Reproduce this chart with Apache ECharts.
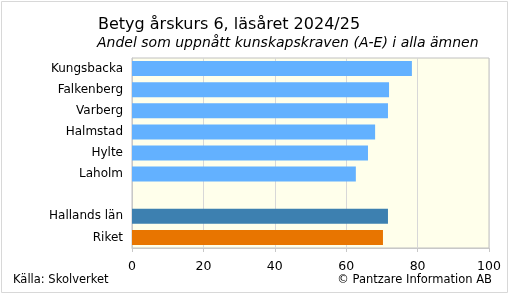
<!DOCTYPE html>
<html><head><meta charset="utf-8">
<script src="https://cdn.jsdelivr.net/npm/echarts@6/dist/echarts.min.js"></script>
<style>html,body{margin:0;padding:0;background:#fff}#c{width:510px;height:295px}</style>
</head><body><div id="c"></div>
<script>
const categories = ['Kungsbacka','Falkenberg','Varberg','Halmstad','Hylte','Laholm','','Hallands län','Riket'];
const values = [78.4, 72.0, 71.7, 68.1, 66.1, 62.7, null, 71.7, 70.3];
const groups = ['kommun','kommun','kommun','kommun','kommun','kommun','','lan','riket'];
const xTicks = [0, 20, 40, 60, 80, 100];
const groupColors = {kommun:'#63B1FF', lan:'#3D80B0', riket:'#E87500', '':'#63B1FF'};

const font = 'DejaVu Sans, Verdana, sans-serif';
const chart = echarts.init(document.getElementById('c'), null, {renderer:'canvas'});
chart.setOption({
  animation:false,
  backgroundColor:'#fff',
  title:[
    {text:'Betyg årskurs 6, läsåret 2024/25', left:93, top:12, padding:5, textStyle:{fontFamily:font, fontSize:16, fontWeight:'normal', color:'#000'}},
    {text:'Andel som uppnått kunskapskraven (A-E) i alla ämnen', left:92, top:31, padding:5, textStyle:{fontFamily:font, fontSize:14, fontStyle:'italic', fontWeight:'normal', color:'#000'}}
  ],
  graphic:[
    {type:'rect', shape:{x:1.5,y:1.5,width:506,height:291}, style:{fill:'none', stroke:'#D8D8D8', lineWidth:1}},
    {type:'text', left:13, top:274, style:{text:'Källa: Skolverket', font:'11.5px '+font, fill:'#000'}},
    {type:'text', right:18, top:274, style:{text:'© Pantzare Information AB', font:'11.5px '+font, fill:'#000'}}
  ],
  grid:{left:132, right:21, top:58, bottom:47, show:true, backgroundColor:'#FFFFEB', borderColor:'#C0C0C0', borderWidth:1},
  xAxis:{type:'value', min:xTicks[0], max:xTicks[xTicks.length-1], interval:20,
    axisLine:{show:true, lineStyle:{color:'#C8C8C8'}},
    axisTick:{show:true, length:4, lineStyle:{color:'#C8C8C8'}},
    splitLine:{show:true, lineStyle:{color:'#D8D8D8'}},
    axisLabel:{fontFamily:font, fontSize:12.5, color:'#000', margin:12}},
  yAxis:{type:'category', data:categories, inverse:true,
    axisLine:{show:true, lineStyle:{color:'#C8C8C8'}},
    axisTick:{show:false},
    axisLabel:{fontFamily:font, fontSize:12, color:'#000', margin:9}},
  series:[{type:'bar', barWidth:15,
    data: values.map((v,i)=>({value:v, itemStyle:{color:groupColors[groups[i]]}}))}]
});
</script></body></html>
